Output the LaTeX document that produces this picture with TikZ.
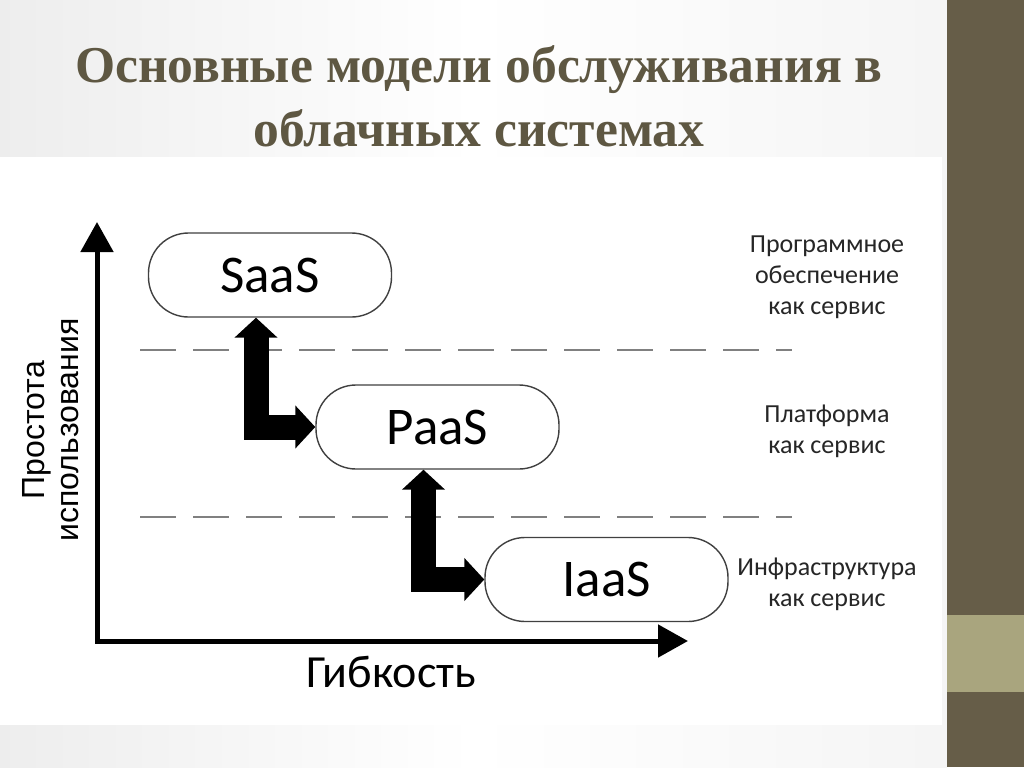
\documentclass[tikz,border=0pt]{standalone}
\usepackage{fontspec}
\setmainfont{Carlito}
\newfontfamily\titlefont{Liberation Serif}
\newfontfamily\arialfont{Liberation Sans}
\usetikzlibrary{arrows.meta}

\definecolor{titlebrown}{HTML}{5E5742}
\definecolor{bardark}{HTML}{665D48}
\definecolor{barlight}{HTML}{A9A57E}
\definecolor{dashgray}{HTML}{808080}

\tikzset{
  model/.style={draw=black!75, line width=0.7pt, rounded corners=20pt,
    minimum width=121.5pt, minimum height=42pt, fill=white,
    font=\fontsize{26.5}{30}\selectfont},
  levelline/.style={draw=dashgray, line width=1.3pt, dash pattern=on 18pt off 8.5pt},
  bigarrow/.style={line width=12.5pt, line join=miter,
    {Triangle[width=21pt,length=10pt]}-{Triangle[width=21pt,length=10pt]}},
  axisline/.style={line width=2.5pt, line join=miter,
    {Triangle[width=16pt,length=15pt]}-{Triangle[width=16pt,length=15pt]}},
  levellabel/.style={align=center, text=black!85, font=\fontsize{13}{15.5}\selectfont},
  titleline/.style={anchor=base, text=titlebrown,
    font=\titlefont\bfseries\fontsize{25.8}{30}\selectfont},
}

\begin{document}
\begin{tikzpicture}[x=0.5pt, y=-0.5pt]

  \useasboundingbox (0,0) rectangle (1024,767);

  % slide background and side bar
  \shade[left color=gray!14, right color=gray!8, middle color=white] (0,0) rectangle (947,767);
  \fill[white] (0,157) rectangle (942,725);
  \fill[bardark] (947,0) rectangle (1024,767);
  \fill[barlight] (947,615) rectangle (1024,692);

  % title
  \node[titleline] (title1) at (479,82) {Основные модели обслуживания в};
  \node[titleline] (title2) at (479,146) {облачных системах};

  % axes
  \coordinate (origin) at (97,641);
  \coordinate (ytip) at (97,222);
  \coordinate (xtip) at (688,641);
  \draw[axisline] (ytip) -- (origin) -- (xtip);

  \node[font=\fontsize{23}{28}\selectfont] (xlabel) at (391,672) {Гибкость};
  \node[rotate=90, align=center, font=\arialfont\fontsize{16}{17}\selectfont]
    (ylabel) at (51,430) {Простота\\использования};

  % level separators
  \coordinate (sep1a) at (140,350);
  \coordinate (sep1b) at (792,350);
  \coordinate (sep2a) at (140,517);
  \coordinate (sep2b) at (792,517);
  \draw[levelline] (sep1a) -- (sep1b);
  \draw[levelline] (sep2a) -- (sep2b);

  % service models
  \begin{scope}[every node/.style={model}]
    \node (saas) at (270,275) {SaaS};
    \node (paas) at (437.5,427) {PaaS};
    \node (iaas) at (606.5,579.5) {IaaS};
  \end{scope}

  \draw[bigarrow] ([xshift=-7pt]saas.south) |- (paas.west);
  \draw[bigarrow] ([xshift=-7pt]paas.south) |- (iaas.west);

  % level descriptions
  \begin{scope}[every node/.style={levellabel}]
    \node (saastext) at (827,277) {Программное\\обеспечение\\как сервис};
    \node (paastext) at (827,431) {Платформа\\как сервис};
    \node (iaastext) at (827,584) {Инфраструктура\\как сервис};
  \end{scope}

\end{tikzpicture}
\end{document}
